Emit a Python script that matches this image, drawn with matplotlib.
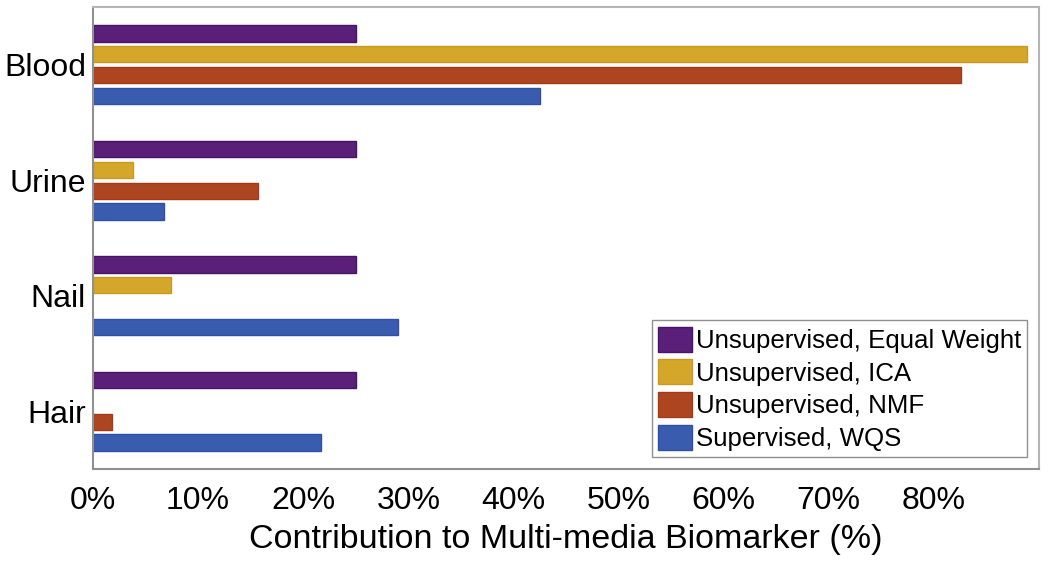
import numpy as np
import matplotlib.pyplot as plt

plt.rcParams["font.family"] = ["Liberation Sans", "DejaVu Sans"]

media = ["Blood", "Urine", "Nail", "Hair"]
methods = ["Unsupervised, Equal Weight", "Unsupervised, ICA",
           "Unsupervised, NMF", "Supervised, WQS"]
equal_weight = [0.25, 0.25, 0.25, 0.25]
ica = [0.889, 0.038, 0.074, 0.0]
nmf = [0.826, 0.157, 0.0, 0.018]
wqs = [0.425, 0.068, 0.290, 0.217]
xticks = [0, 0.1, 0.2, 0.3, 0.4, 0.5, 0.6, 0.7, 0.8]

colors = ["#5a1f78", "#d4a62a", "#ad4620", "#3a5cae"]
edges = ["#4a1268", "#c99a1e", "#a03a18", "#2f50a4"]

fig = plt.figure(figsize=(10.5, 5.64), dpi=100)
ax = fig.add_axes([93 / 1050, 1 - 469 / 564, (1039 - 93) / 1050, (469 - 7) / 564])

y = np.arange(len(media))
offsets = [-0.27, -0.09, 0.09, 0.27]
for vals, off, c, ec, lab in zip([equal_weight, ica, nmf, wqs], offsets, colors, edges, methods):
    vals = np.array(vals)
    lw = np.where(vals > 0, 1.0, 0.0)
    ax.barh(y + off, vals, height=0.14, color=c, edgecolor=ec, linewidth=lw, label=lab)

ax.set_xlim(0, 0.9)
ax.set_ylim(3.5, -0.5)
ax.set_yticks(y)
ax.set_yticklabels(media, fontsize=23)
ax.set_xticks(xticks)
ax.set_xticklabels([f"{int(round(t * 100))}%" for t in xticks], fontsize=23)
ax.tick_params(length=0)
ax.tick_params(axis="y", pad=5)
ax.tick_params(axis="x", pad=12)
ax.set_xlabel("Contribution to Multi-media Biomarker (%)", fontsize=24.5, labelpad=6)

for name, spine in ax.spines.items():
    spine.set_color("#b4b4b4" if name in ("top", "right") else "#909090")
    spine.set_linewidth(1.5)

leg = ax.legend(loc="lower right", fontsize=18.6, handlelength=1.3, handleheight=1.1,
                handletextpad=0.15, labelspacing=0.25, borderpad=0.25, borderaxespad=0.45,
                fancybox=False, framealpha=1)
leg.get_frame().set_edgecolor("#909090")
leg.get_frame().set_linewidth(1)

plt.savefig("out.png", dpi=100)
plt.close()
